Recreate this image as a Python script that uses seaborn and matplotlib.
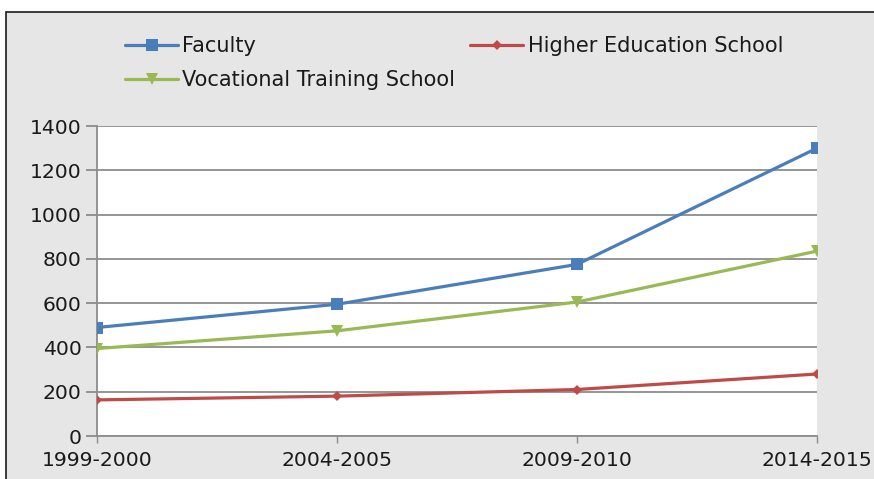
import matplotlib
matplotlib.use("Agg")
import matplotlib.pyplot as plt
import seaborn as sns
import pandas as pd
from matplotlib.patches import Rectangle

periods = ["1999-2000", "2004-2005", "2009-2010", "2014-2015"]
faculty = [490, 595, 775, 1300]
higher_edu = [163, 180, 210, 280]
vocational = [395, 475, 605, 835]
series_names = ["Faculty", "Vocational Training School", "Higher Education School"]
y_ticks = [0, 200, 400, 600, 800, 1000, 1200, 1400]

df = pd.DataFrame({
    "period": periods * 3,
    "value": faculty + vocational + higher_edu,
    "series": [series_names[0]] * 4 + [series_names[1]] * 4 + [series_names[2]] * 4,
})

sns.set_theme(style="white")
plt.rcParams["font.family"] = ["DejaVu Sans"]

fig = plt.figure(figsize=(8.74, 4.79), dpi=100)
fig.patch.set_facecolor("white")
# framed gray panel
fig.patches.append(Rectangle((6 / 874, -0.1), 1.2, 1 - 12 / 479 + 0.1,
                             transform=fig.transFigure, facecolor="#e6e6e6",
                             edgecolor="#1a1a1a", linewidth=1.2, zorder=-5))

ax = fig.add_axes([97 / 874, 1 - 436 / 479, (817 - 97) / 874, (436 - 126) / 479])
ax.set_zorder(2)
ax.set_facecolor("white")

palette = {"Faculty": "#4a7ebb", "Higher Education School": "#be4b48",
           "Vocational Training School": "#98b954"}
markers = {"Faculty": "s", "Higher Education School": "D",
           "Vocational Training School": "v"}

sns.lineplot(data=df, x="period", y="value", hue="series", style="series",
             palette=palette, markers=markers, dashes=False, linewidth=2.3,
             markersize=8, markeredgewidth=0, ax=ax, sort=False, zorder=3)

for line in ax.get_lines():
    if line.get_marker() == "D":
        line.set_markersize(5)

ax.set_xlim(0, 3)
ax.set_ylim(0, 1400)
ax.set_yticks(y_ticks)
ax.set_xticks(range(len(periods)))
ax.set_xticklabels(periods)
ax.set_xlabel("")
ax.set_ylabel("")
ax.grid(axis="y", color="#8c8c8c", linewidth=1.3)
ax.set_axisbelow(True)
for side in ["top", "right"]:
    ax.spines[side].set_visible(False)
for side in ["left", "bottom"]:
    ax.spines[side].set_color("#8c8c8c")
    ax.spines[side].set_linewidth(1.3)
ax.tick_params(axis="y", length=8, color="#8c8c8c", width=1.3, labelsize=14.7,
               labelcolor="#1a1a1a", pad=3, left=True)
ax.tick_params(axis="x", length=5, color="#8c8c8c", width=1.0, labelsize=14.7,
               labelcolor="#1a1a1a", pad=6, bottom=True)

handles, labels = ax.get_legend_handles_labels()
if ax.legend_:
    ax.legend_.remove()
order = ["Faculty", "Vocational Training School", "Higher Education School"]
hmap = dict(zip(labels, handles))
leg = fig.legend([hmap[o] for o in order], order, ncol=2,
                 loc="upper left", bbox_to_anchor=(125 / 874, 1 - 36 / 479),
                 frameon=False, fontsize=15, handlelength=2.55, handletextpad=0.2,
                 columnspacing=0.72, labelspacing=0.68, borderaxespad=0,
                 borderpad=0)
for t in leg.get_texts():
    t.set_color("#1a1a1a")
for h in leg.legend_handles:
    if h.get_marker() == "D":
        h.set_markersize(5)

fig.savefig("out.png", dpi=100)
